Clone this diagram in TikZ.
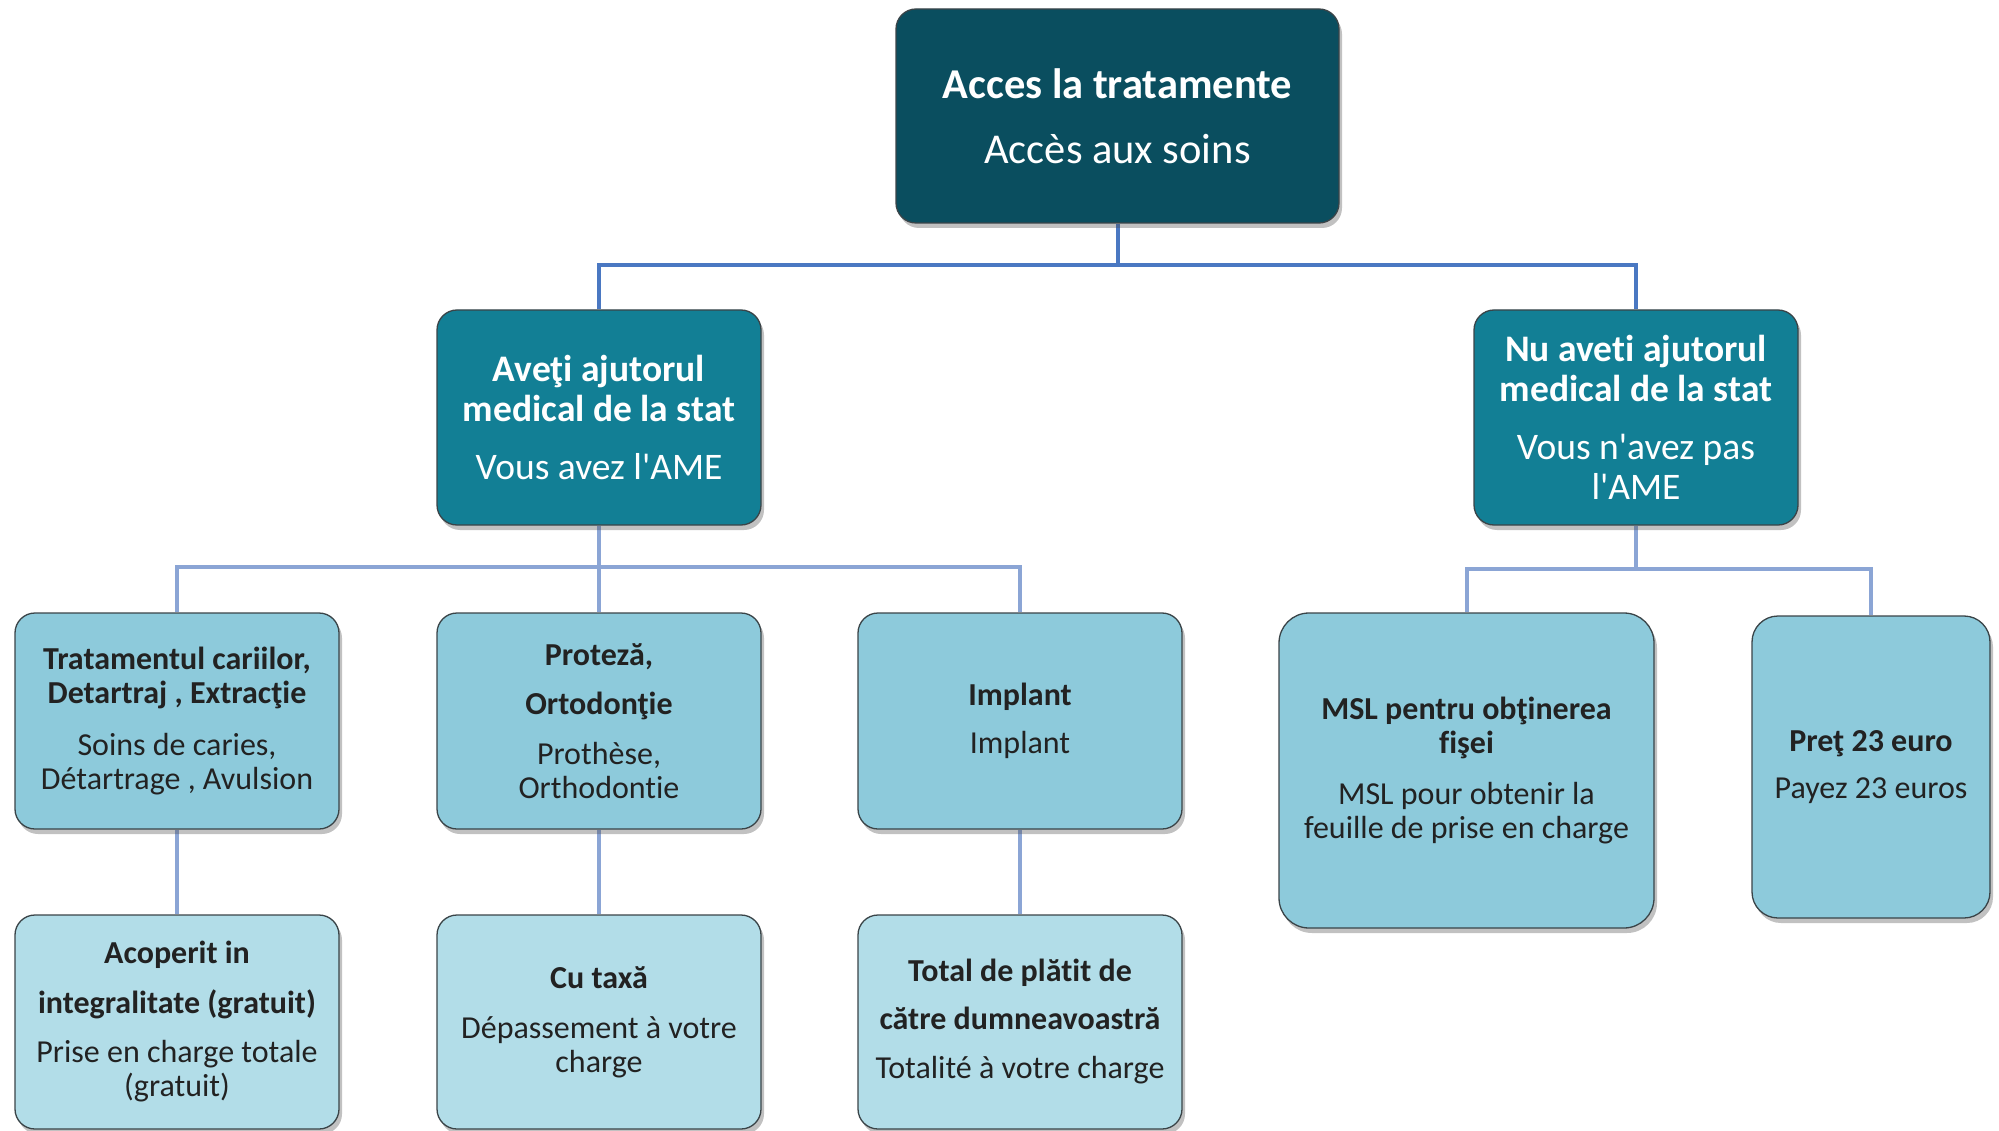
\documentclass[tikz,border=0pt]{standalone}
\usepackage{fontspec}
\setmainfont{Carlito}[Ligatures={NoCommon,TeXOff}]
\usetikzlibrary{shadows,backgrounds}

\definecolor{rootfill}{HTML}{0A4E5F}
\definecolor{midfill}{HTML}{127F95}
\definecolor{leaffill}{HTML}{8DCADB}
\definecolor{lowfill}{HTML}{B2DDE8}
\definecolor{edgedark}{HTML}{3A4448}
\definecolor{linkmain}{HTML}{4A78C2}
\definecolor{linksub}{HTML}{8BA5D5}
\definecolor{inktext}{HTML}{222222}

\tikzset{
  card/.style={draw=edgedark, line width=1.3pt, rounded corners=20pt,
    align=center, inner sep=0pt,
    drop shadow={shadow xshift=3pt, shadow yshift=-5pt, opacity=0.35, fill=black!70}},
  rootcard/.style={card, fill=rootfill, text=white,
    font=\fontsize{42.5}{48}\selectfont},
  midcard/.style={card, fill=midfill, text=white,
    font=\fontsize{37.5}{40}\selectfont},
  leafcard/.style={card, fill=leaffill, text=inktext,
    font=\fontsize{32}{34}\selectfont},
  lowcard/.style={card, fill=lowfill, text=inktext,
    font=\fontsize{32}{34}\selectfont},
  mainlink/.style={draw=linkmain, line width=4pt},
  sublink/.style={draw=linksub, line width=4pt},
}

\begin{document}
\begin{tikzpicture}[x=1pt, y=-1pt]
\useasboundingbox (0,0) rectangle (1999,1131);

% root
\node[rootcard, minimum width=443pt, minimum height=214pt] (root) at (1117.5,116)
  {\textbf{Acces la tratamente}\\[17pt] Accès aux soins};

% second level
\node[midcard, minimum width=324pt, minimum height=215pt] (ame) at (599,417.5)
  {\textbf{Aveţi ajutorul}\\ \textbf{medical de la stat}\\[18pt] Vous avez l'AME};
\node[midcard, minimum width=324pt, minimum height=215pt] (noame) at (1636,417.5)
  {\textbf{Nu aveti ajutorul}\\ \textbf{medical de la stat}\\[18pt] Vous n'avez pas\\ l'AME};

% third level, AME side
\node[leafcard, minimum width=324pt, minimum height=216pt] (soins) at (177,721)
  {\textbf{Tratamentul cariilor,}\\ \textbf{Detartraj , Extracţie}\\[18pt]
   Soins de caries,\\ Détartrage , Avulsion};
\node[leafcard, minimum width=324pt, minimum height=216pt] (prot) at (599,721)
  {\textbf{Proteză,}\\[15pt] \textbf{Ortodonţie}\\[16pt] Prothèse,\\ Orthodontie};
\node[leafcard, minimum width=324pt, minimum height=216pt] (impl) at (1020,721)
  {\textbf{Implant}\\[14pt] Implant};

% third level, no-AME side
\node[leafcard, rounded corners=30pt, minimum width=375pt, minimum height=315pt] (msl) at (1466.5,770.5)
  {\textbf{MSL pentru obţinerea}\\ \textbf{fişei}\\[17pt]
   MSL pour obtenir la\\ feuille de prise en charge};
\node[leafcard, rounded corners=26pt, minimum width=238pt, minimum height=302pt] (pret) at (1871,767)
  {\textbf{Preţ 23 euro}\\[13pt] Payez 23 euros};

% fourth level
\node[lowcard, minimum width=324pt, minimum height=214pt] (gratuit) at (177,1022)
  {\textbf{Acoperit in}\\[16pt] \textbf{integralitate (gratuit)}\\[15pt]
   Prise en charge totale\\ (gratuit)};
\node[lowcard, minimum width=324pt, minimum height=214pt] (taxa) at (599,1022)
  {\textbf{Cu taxă}\\[16pt] Dépassement à votre\\ charge};
\node[lowcard, minimum width=324pt, minimum height=214pt] (total) at (1020,1022)
  {\textbf{Total de plătit de}\\[14pt] \textbf{către dumneavoastră}\\[15pt]
   Totalité à votre charge};

% junction points of the tree
\coordinate (j1) at (1117.5,265);
\coordinate (j2) at (599,567);
\coordinate (j3) at (1636,569);

\begin{scope}[on background layer]
  \draw[mainlink] (root.south) -- (j1);
  \draw[mainlink] (ame.north) |- (j1) -| (noame.north);

  \draw[sublink] (ame.south) -- (prot.north);
  \draw[sublink] (soins.north) |- (j2) -| (impl.north);

  \draw[sublink] (noame.south) -- (j3);
  \draw[sublink] (msl.north) |- (j3) -| (pret.north);

  \draw[sublink] (soins.south) -- (gratuit.north);
  \draw[sublink] (prot.south) -- (taxa.north);
  \draw[sublink] (impl.south) -- (total.north);
\end{scope}
\end{tikzpicture}
\end{document}
